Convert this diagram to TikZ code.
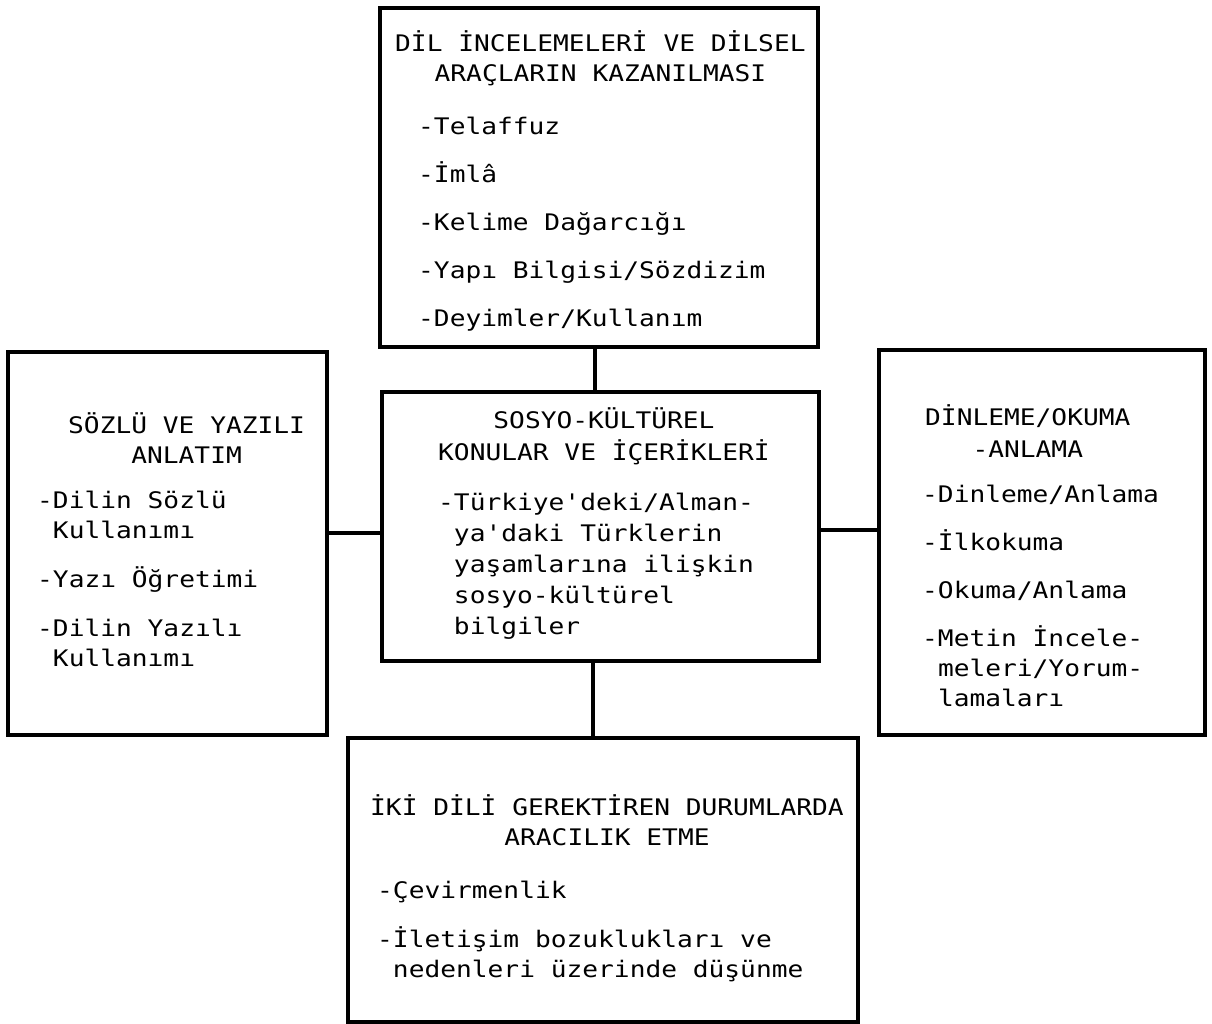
\documentclass[tikz,border=0pt]{standalone}
\usepackage{fontspec}
\newfontfamily\daktilo[FakeStretch=1.15]{DejaVu Sans Mono}
\newcommand{\baslik}[1]{\begin{tabular}[t]{@{}c@{}}#1\end{tabular}}
\newcommand{\liste}[1]{\begin{tabular}[t]{@{}l@{}}#1\end{tabular}}
\newcommand{\bos}{\phantom{-}}

\tikzset{
  kutu/.style={draw, line width=3.2pt, inner sep=0pt},
  yazi/.style={font=\daktilo\fontsize{22.8}{30}\selectfont, inner sep=0pt, anchor=base west},
  hat/.style={line width=3.2pt}
}

\begin{document}
\begin{tikzpicture}[x=1pt,y=-1pt]
  \useasboundingbox (0,0) rectangle (1212,1024);

  % kutular
  \node[kutu, minimum width=438, minimum height=339] (dil) at (599,177.5) {};
  \node[kutu, minimum width=319, minimum height=383] (sozlu) at (167.5,543.5) {};
  \node[kutu, minimum width=437, minimum height=269] (sosyo) at (600.5,526.5) {};
  \node[kutu, minimum width=326, minimum height=385] (dinleme) at (1042,542.5) {};
  \node[kutu, minimum width=510, minimum height=284] (iki) at (603,880) {};

  % baglantilar
  \draw[hat] ([xshift=-4pt]dil.south) coordinate (d1) -- (d1 |- sosyo.north);
  \draw[hat] ([yshift=-6.5pt]sosyo.west) coordinate (s1) -- (s1 -| sozlu.east);
  \draw[hat] ([yshift=-3.5pt]sosyo.east) coordinate (s2) -- (s2 -| dinleme.west);
  \draw[hat] ([xshift=-7.5pt]sosyo.south) coordinate (s3) -- (s3 |- iki.north);

  % ust kutu
  \node[yazi] (dilbaslik) at (395,52) {\baslik{DİL İNCELEMELERİ VE DİLSEL\\ARAÇLARIN KAZANILMASI}};
  \node[yazi] (dilliste) at (418,135) {\liste{-Telaffuz\\[18pt]-İmlâ\\[18pt]-Kelime Dağarcığı\\[18pt]-Yapı Bilgisi/Sözdizim\\[18pt]-Deyimler/Kullanım}};

  % sol kutu
  \node[yazi] (sozlubaslik) at (68,433) {\baslik{SÖZLÜ VE YAZILI\\ANLATIM}};
  \node[yazi] (sozluliste) at (37,508) {\liste{-Dilin Sözlü\\\bos Kullanımı\\[19pt]-Yazı Öğretimi\\[19pt]-Dilin Yazılı\\\bos Kullanımı}};

  % orta kutu
  \node[yazi] (sosyobaslik) at (438,428) {\baslik{SOSYO-KÜLTÜREL\\[2pt]KONULAR VE İÇERİKLERİ}};
  \node[yazi] (sosyoliste) at (438,510) {\liste{-Türkiye'deki/Alman-\\[1pt]\bos ya'daki Türklerin\\[1pt]\bos yaşamlarına ilişkin\\[1pt]\bos sosyo-kültürel\\[1pt]\bos bilgiler}};

  % sag kutu
  \node[yazi] (dinlemebaslik) at (925,425) {\baslik{DİNLEME/OKUMA\\[2pt]-ANLAMA}};
  \node[yazi] (dinlemeliste) at (922,502) {\liste{-Dinleme/Anlama\\[18pt]-İlkokuma\\[18pt]-Okuma/Anlama\\[18pt]-Metin İncele-\\\bos meleri/Yorum-\\\bos lamaları}};

  % alt kutu
  \node[yazi] (ikibaslik) at (370,815) {\baslik{İKİ DİLİ GEREKTİREN DURUMLARDA\\ARACILIK ETME}};
  \node[yazi] (ikiliste) at (377,898) {\liste{-Çevirmenlik\\[19pt]-İletişim bozuklukları ve\\\bos nedenleri üzerinde düşünme}};
\end{tikzpicture}
\end{document}
